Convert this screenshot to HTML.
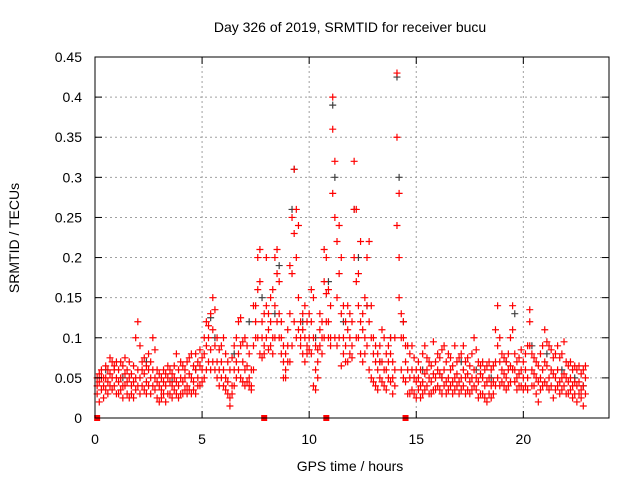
<!DOCTYPE html>
<html><head><meta charset="utf-8"><style>
body{margin:0;background:#fff}
svg{display:block;font-family:"Liberation Sans",sans-serif}
</style></head><body>
<svg id="chart" width="640" height="480" viewBox="0 0 640 480">
<rect width="640" height="480" fill="#fff"/>
<text x="350" y="32" font-size="14" text-anchor="middle" fill="#000">Day 326 of 2019, SRMTID for receiver bucu</text>
<text x="350" y="471" font-size="14" text-anchor="middle" fill="#000">GPS time / hours</text>
<text transform="translate(19,238) rotate(-90)" font-size="14" text-anchor="middle" fill="#000">SRMTID / TECUs</text>
<g id="grid"></g>
<g id="marks"></g>
<g id="axes"></g>
</svg>
<script>
const xTicks=[0,5,10,15,20];
const yTicks=[0,0.05,0.1,0.15,0.2,0.25,0.3,0.35,0.4,0.45];
const yTickLabels=["0","0.05","0.1","0.15","0.2","0.25","0.3","0.35","0.4","0.45"];
const redHours=[0.1,0.2,0.3,0.4,0.5,0.6,0.7,0.8,0.9,1.0,1.1,1.2,1.3,1.4,1.5,1.6,1.7,1.8,1.9,2.0,2.1,2.2,2.3,2.4,2.5,2.6,2.7,2.8,2.9,3.0,3.1,3.2,3.3,3.4,3.5,3.6,3.7,3.8,3.9,4.0,4.1,4.2,4.3,4.4,4.5,4.6,4.7,4.8,4.9,5.0,5.1,5.2,5.3,5.4,5.5,5.6,5.7,5.8,5.9,6.0,6.1,6.2,6.3,6.4,6.5,6.6,6.7,6.8,6.9,7.0,7.1,7.2,7.3,7.4,7.5,7.6,7.7,7.8,7.9,8.0,8.1,8.2,8.3,8.4,8.5,8.6,8.7,8.8,8.9,9.0,9.1,9.2,9.3,9.4,9.5,9.6,9.7,9.8,9.9,10.0,10.1,10.2,10.3,10.4,10.5,10.6,10.7,10.8,10.9,11.0,11.1,11.2,11.3,11.4,11.5,11.6,11.7,11.8,11.9,12.0,12.1,12.2,12.3,12.4,12.5,12.6,12.7,12.8,12.9,13.0,13.1,13.2,13.3,13.4,13.5,13.6,13.7,13.8,13.9,14.0,14.1,14.2,14.3,14.4,14.5,14.6,14.7,14.8,14.9,15.0,15.1,15.2,15.3,15.4,15.5,15.6,15.7,15.8,15.9,16.0,16.1,16.2,16.3,16.4,16.5,16.6,16.7,16.8,16.9,17.0,17.1,17.2,17.3,17.4,17.5,17.6,17.7,17.8,17.9,18.0,18.1,18.2,18.3,18.4,18.5,18.6,18.7,18.8,18.9,19.0,19.1,19.2,19.3,19.4,19.5,19.6,19.7,19.8,19.9,20.0,20.1,20.2,20.3,20.4,20.5,20.6,20.7,20.8,20.9,21.0,21.1,21.2,21.3,21.4,21.5,21.6,21.7,21.8,21.9,22.0,22.1,22.2,22.3,22.4,22.5,22.6,22.7,22.8,22.9];
const redValues=[
[.04,.03,.05],[.045,.02,.055],[.035,.05,.06],[.04,.025,.05],[.05,.035,.065],[.045,.03,.06],[.055,.04,.075],[.05,.035,.07],[.06,.04,.065],[.05,.03,.07],
[.045,.06,.03],[.05,.07,.035],[.04,.065,.025],[.055,.075,.04],[.045,.06,.03],[.05,.07,.025],[.04,.055,.03],[.045,.065,.025],[.05,.1,.035],[.12,.06,.04],
[.09,.05,.03],[.06,.07,.04],[.055,.075,.035],[.065,.045,.03],[.06,.08,.04],[.05,.07,.03],[.1,.06,.04],[.085,.05,.035],[.045,.06,.025],[.04,.055,.02],
[.035,.05,.025],[.045,.06,.03],[.04,.055,.02],[.05,.065,.03],[.045,.06,.03],[.04,.055,.025],[.05,.065,.035],[.045,.08,.03],[.04,.06,.025],[.05,.07,.03],
[.045,.065,.03],[.05,.06,.035],[.04,.07,.03],[.055,.075,.035],[.05,.08,.03],[.045,.065,.035],[.06,.08,.03],[.05,.07,.04],[.065,.085,.04],[.06,.075,.045],
[.08,.1,.05],[.09,.12,.06],[.1,.115,.07],[.085,.13,.06],[.15,.11,.07],[.135,.09,.06],[.07,.1,.05],[.06,.085,.04],[.07,.09,.05],[.06,.1,.04],
[.05,.08,.035],[.045,.07,.03],[.025,.06,.015],[.04,.075,.03],[.06,.09,.04],[.07,.1,.05],[.08,.12,.06],[.125,.09,.05],[.07,.095,.045],[.06,.1,.04],
[.065,.09,.045],[.05,.08,.04],[.04,.06,.035],[.09,.14,.06],[.14,.12,.1],[.2,.16,.1],[.21,.17,.08],[.12,.1,.075],[.13,.09,.08],[.2,.14,.1],
[.11,.13,.085],[.12,.15,.09],[.16,.1,.08],[.2,.14,.1],[.21,.18,.12],[.17,.13,.1],[.1,.12,.08],[.05,.09,.07],[.06,.08,.05],[.09,.11,.07],
[.19,.13,.07],[.25,.18,.09],[.31,.23,.12],[.26,.2,.1],[.24,.15,.11],[.12,.1,.09],[.11,.13,.08],[.14,.1,.07],[.12,.09,.08],[.13,.1,.085],
[.16,.12,.08],[.15,.1,.04],[.09,.06,.035],[.085,.07,.05],[.11,.13,.09],[.1,.12,.08],[.21,.17,.1],[.2,.155,.12],[.12,.16,.1],[.1,.14,.09],
[.4,.36,.28],[.32,.25,.1],[.22,.15,.09],[.24,.18,.1],[.2,.13,.065],[.1,.14,.08],[.12,.09,.07],[.14,.11,.07],[.13,.1,.08],[.12,.09,.075],
[.32,.26,.2],[.26,.17,.1],[.18,.14,.1],[.22,.12,.08],[.13,.11,.07],[.15,.1,.08],[.2,.14,.09],[.22,.12,.06],[.14,.1,.05],[.1,.08,.045],
[.09,.07,.04],[.08,.06,.035],[.07,.09,.05],[.11,.07,.045],[.1,.06,.04],[.08,.06,.035],[.09,.07,.05],[.1,.08,.045],[.07,.05,.03],[.1,.06,.04],
[.43,.35,.24],[.2,.28,.15],[.13,.1,.06],[.1,.12,.05],[.07,.09,.045],[.06,.09,.03],[.08,.05,.03],[.09,.06,.035],[.075,.05,.03],[.06,.045,.025],
[.05,.035,.07],[.04,.025,.06],[.045,.08,.03],[.055,.09,.035],[.06,.04,.075],[.05,.03,.07],[.045,.065,.03],[.055,.095,.035],[.05,.07,.035],[.06,.04,.08],
[.055,.035,.075],[.05,.03,.085],[.06,.04,.09],[.045,.07,.03],[.05,.035,.08],[.06,.04,.075],[.045,.03,.065],[.05,.035,.09],[.055,.04,.07],[.045,.03,.075],
[.05,.035,.08],[.06,.04,.09],[.05,.03,.07],[.055,.035,.075],[.045,.03,.065],[.05,.035,.08],[.06,.04,.1],[.05,.035,.085],[.045,.025,.07],[.055,.03,.065],
[.05,.03,.07],[.04,.025,.06],[.045,.02,.065],[.05,.03,.07],[.04,.025,.06],[.045,.03,.065],[.11,.07,.04],[.14,.09,.05],[.1,.07,.04],[.06,.08,.045],
[.055,.04,.075],[.05,.035,.07],[.06,.04,.08],[.065,.045,.1],[.14,.11,.06],[.06,.045,.08],[.05,.035,.07],[.055,.04,.075],[.06,.04,.085],[.05,.035,.07],
[.06,.04,.08],[.09,.05,.035],[.135,.12,.09],[.08,.06,.04],[.055,.04,.075],[.05,.03,.07],[.045,.02,.065],[.05,.035,.08],[.06,.04,.09],[.07,.045,.11],
[.065,.04,.095],[.05,.035,.09],[.06,.04,.085],[.055,.025,.075],[.05,.035,.08],[.06,.04,.09],[.045,.03,.075],[.05,.035,.08],[.055,.04,.095],[.05,.03,.07],
[.045,.03,.065],[.05,.035,.07],[.04,.025,.06],[.045,.03,.065],[.04,.02,.06],[.045,.03,.065],[.035,.025,.055],[.04,.015,.06],[.05,.03,.065]];
const grayHours=[0.5,1.3,2.4,3.6,4.7,5.4,5.6,6.5,7.2,7.8,8.4,8.6,9.2,9.3,9.7,10.3,10.9,11.1,11.2,11.6,12.1,12.3,12.7,13.3,13.8,14.1,14.2,14.4,15.3,16.2,17.1,17.8,18.5,19.2,19.6,20.4,21.1,21.8,22.4,22.8];
const grayValues=[.06,.05,.07,.045,.06,.125,.1,.08,.12,.15,.13,.19,.26,.31,.12,.1,.17,.39,.3,.12,.26,.2,.14,.07,.1,.425,.3,.12,.06,.05,.07,.06,.05,.07,.13,.09,.08,.06,.05,.04];
const zeroHours=[0.1,7.9,10.8,14.5];
const X0=95,X1=609,Y0=418,Y1=57,XMAX=24,YMAX=0.45;
function xs(h){return X0+(X1-X0)*h/XMAX;}
function ys(v){return Y0-(Y0-Y1)*v/YMAX;}
const NS="http://www.w3.org/2000/svg";
const grid=document.getElementById('grid'),axes=document.getElementById('axes'),marks=document.getElementById('marks');
function mk(tag,attrs,parent){const e=document.createElementNS(NS,tag);for(const k in attrs)e.setAttribute(k,attrs[k]);parent.appendChild(e);return e;}
xTicks.forEach(t=>{
  const x=xs(t);
  if(t>0){const g=mk('line',{x1:x,x2:x,y1:Y0,y2:Y1,stroke:'#a0a0a0','stroke-dasharray':'2,3'},grid);
  
  }
  const a=mk('line',{x1:x,x2:x,y1:Y0,y2:Y0-7,stroke:'#000'},axes);
  
  
  const b=mk('line',{x1:x,x2:x,y1:Y1,y2:Y1+7,stroke:'#000'},axes);
  
  
  const tx=mk('text',{x:x,y:Y0+26,'font-size':14,'text-anchor':'middle',fill:'#000'},axes);
  tx.textContent=String(t);
  
  
});
yTicks.forEach((t,i)=>{
  const y=ys(t);
  if(t>0&&t<YMAX){const g=mk('line',{x1:X0,x2:X1,y1:y,y2:y,stroke:'#a0a0a0','stroke-dasharray':'2,3'},grid);
  
  }
  const a=mk('line',{x1:X0,x2:X0+7,y1:y,y2:y,stroke:'#000'},axes);
  
  
  const b=mk('line',{x1:X1,x2:X1-7,y1:y,y2:y,stroke:'#000'},axes);
  
  
  const tx=mk('text',{x:X0-13,y:y+5,'font-size':14,'text-anchor':'end',fill:'#000'},axes);
  tx.textContent=yTickLabels[i];
  
  
});
const box=mk('rect',{x:X0,y:Y1,width:X1-X0,height:Y0-Y1,fill:'none',stroke:'#000'},axes);


function plus(h,v,color,name){
  const x=xs(h),y=ys(v);
  const p=mk('path',{d:`M${x-3.5} ${y}h7M${x} ${y-3.5}v7`,stroke:color,'stroke-width':1.2,fill:'none'},marks);
  
  
}
grayHours.forEach((h,i)=>plus(h,grayValues[i],'#404040','gray-point'));
redHours.forEach((h,i)=>redValues[i].forEach(v=>plus(h,v,'#ff0000','red-point')));
zeroHours.forEach(h=>{
  const r=mk('rect',{x:xs(h)-3,y:ys(0)-3,width:6,height:6,fill:'#ff0000'},marks);
  
  
});
</script>
</body></html>
